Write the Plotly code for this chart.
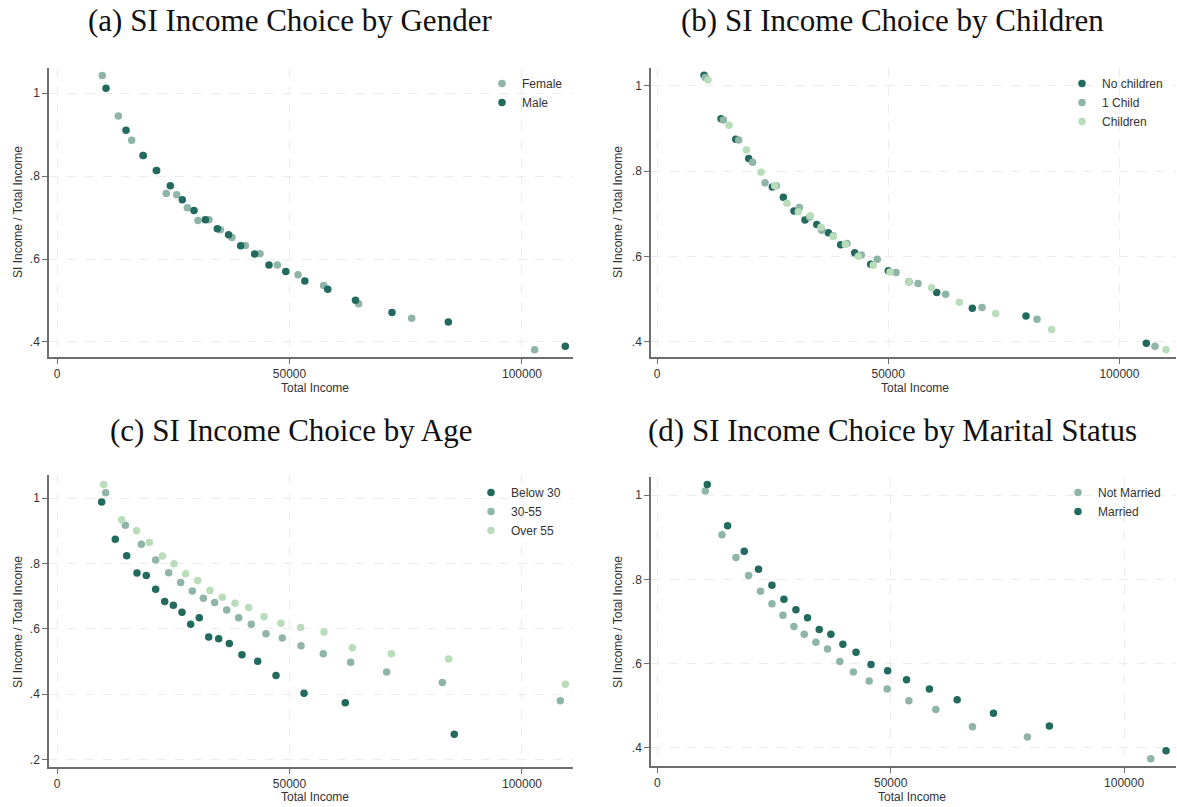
import plotly.graph_objects as go

W, H = 1177, 807

# ---- colours ----
DARK = "#236a5e"
MID = "#8fb4a8"
LIGHT = "#b9dcbb"

# ---- (a) by gender ----
female_x = [9740, 13190, 16060, 18600, 21300, 23510, 25740, 28030, 30320, 32690,
            35130, 37630, 40500, 43660, 47380, 51830, 57350, 64860, 76270, 102730]
female_y = [1.043, 0.945, 0.887, 0.850, 0.814, 0.758, 0.755, 0.724, 0.693, 0.695,
            0.671, 0.652, 0.633, 0.613, 0.586, 0.562, 0.536, 0.492, 0.457, 0.381]
male_x = [10540, 14840, 18500, 21430, 24370, 26950, 29460, 31900, 34480, 36910,
          39500, 42500, 45590, 49200, 53300, 58220, 64190, 72040, 84160, 109310]
male_y = [1.012, 0.911, 0.850, 0.814, 0.777, 0.743, 0.717, 0.695, 0.673, 0.659,
          0.632, 0.612, 0.586, 0.570, 0.547, 0.527, 0.501, 0.471, 0.448, 0.390]

# ---- (b) by children ----
nochild_x = [10170, 13840, 17020, 19830, 24940, 27320, 29630, 32010, 34540, 37050,
             39720, 42750, 46220, 50020, 54500, 60490, 68190, 79800, 105820]
nochild_y = [1.025, 0.923, 0.875, 0.830, 0.763, 0.739, 0.707, 0.686, 0.675, 0.656,
             0.628, 0.609, 0.582, 0.567, 0.541, 0.516, 0.479, 0.461, 0.397]
onechild_x = [10450, 14350, 17670, 20690, 23360, 25800, 30780, 33000, 35620, 38130,
              41080, 44180, 47640, 51690, 56440, 62430, 70290, 82180, 107700]
onechild_y = [1.020, 0.920, 0.873, 0.821, 0.773, 0.766, 0.715, 0.693, 0.662, 0.649,
              0.631, 0.604, 0.594, 0.563, 0.537, 0.512, 0.481, 0.453, 0.390]
children_x = [11030, 15570, 19320, 22490, 25450, 28110, 30560, 33160, 35470, 38130,
              40730, 43530, 46780, 50390, 54500, 59400, 65380, 73250, 85350, 110080]
children_y = [1.014, 0.908, 0.850, 0.798, 0.766, 0.725, 0.705, 0.696, 0.669, 0.647,
              0.629, 0.601, 0.580, 0.564, 0.541, 0.527, 0.493, 0.467, 0.429, 0.382]

# ---- (c) by age ----
below30_x = [9610, 12540, 14980, 17200, 19210, 21220, 23160, 25020, 26880, 28750,
             30600, 32620, 34770, 37060, 39780, 43160, 47100, 53120, 62000, 85440]
below30_y = [0.988, 0.874, 0.824, 0.771, 0.763, 0.721, 0.684, 0.672, 0.651, 0.614,
             0.634, 0.575, 0.570, 0.555, 0.521, 0.501, 0.457, 0.403, 0.374, 0.277]
mid_age_x = [10470, 14700, 18140, 21220, 24010, 26600, 29100, 31470, 33910, 36490,
             39070, 41790, 44950, 48450, 52470, 57270, 63150, 70900, 82860, 108240]
mid_age_y = [1.017, 0.917, 0.859, 0.811, 0.772, 0.742, 0.716, 0.694, 0.681, 0.658,
             0.634, 0.614, 0.585, 0.572, 0.548, 0.524, 0.498, 0.468, 0.436, 0.380]
over55_x = [10040, 13910, 17130, 19860, 22650, 25160, 27670, 30250, 32900, 35550,
            38280, 41220, 44520, 48170, 52400, 57420, 63510, 71900, 84230, 109320]
over55_y = [1.042, 0.934, 0.900, 0.864, 0.823, 0.799, 0.769, 0.748, 0.717, 0.697,
            0.678, 0.665, 0.637, 0.617, 0.604, 0.590, 0.542, 0.524, 0.508, 0.430]

# ---- (d) by marital status ----
notmarried_x = [10280, 13850, 16850, 19550, 22120, 24560, 26920, 29270, 31480, 33980,
                36470, 39100, 42000, 45400, 49250, 53890, 59670, 67520, 79290, 105720]
notmarried_y = [1.010, 0.906, 0.852, 0.809, 0.772, 0.742, 0.715, 0.688, 0.670, 0.651,
                0.635, 0.605, 0.580, 0.559, 0.540, 0.512, 0.491, 0.450, 0.426, 0.374]
married_x = [10710, 15060, 18630, 21690, 24560, 27130, 29700, 32180, 34690, 37190,
             39760, 42580, 45790, 49350, 53400, 58310, 64240, 72020, 84000, 109000]
married_y = [1.025, 0.927, 0.867, 0.824, 0.786, 0.753, 0.728, 0.709, 0.681, 0.670,
             0.646, 0.627, 0.598, 0.583, 0.562, 0.540, 0.514, 0.482, 0.452, 0.393]

x_tickvals = [0, 50000, 100000]
x_ticktext = ["0", "50000", "100000"]
y_tick_ab = [0.4, 0.6, 0.8, 1.0]
y_tick_c = [0.2, 0.4, 0.6, 0.8, 1.0]


def ytxt(vals):
    return [("%g" % v).lstrip("0") if v < 1 else "1" for v in vals]


def px(x):
    return x / W


def py(y):
    return 1 - y / H


fig = go.Figure()

# panel frames: (name suffix, x pixel span, y pixel span, x range, y range, y ticks)
panels = [
    ("", (49, 573), (68, 357), [-1720, 110970], [0.3638, 1.061], y_tick_ab),
    ("2", (651, 1176), (68, 357), [-1300, 112240], [0.3648, 1.042], y_tick_ab),
    ("3", (49, 573), (475, 767), [-1720, 110970], [0.177, 1.071], y_tick_c),
    ("4", (651, 1176), (477, 766), [-1350, 111130], [0.357, 1.043], y_tick_ab),
]

axis_common = dict(
    showline=True, linecolor="#6e6e6e", linewidth=1.5,
    ticks="outside", ticklen=5, tickcolor="#6e6e6e", tickwidth=1.2,
    showgrid=True, gridcolor="#ececec", griddash="dash", gridwidth=1.2,
    zeroline=False, mirror=False,
    tickfont=dict(family="Liberation Sans, Arial, sans-serif", size=12, color="#333333"),
)

layout_axes = {}
for suf, (x0, x1), (y0, y1), xr, yr, yt in panels:
    layout_axes["xaxis" + suf] = dict(
        domain=[px(x0), px(x1)], range=xr, anchor="y" + suf,
        tickvals=x_tickvals, ticktext=x_ticktext, **axis_common)
    layout_axes["yaxis" + suf] = dict(
        domain=[py(y1), py(y0)], range=yr, anchor="x" + suf,
        tickvals=yt, ticktext=ytxt(yt), **axis_common)


def add(xs, ys, name, color, ax, legend):
    fig.add_trace(go.Scatter(
        x=xs, y=ys, mode="markers", name=name,
        marker=dict(color=color, size=7.5, line=dict(width=0)),
        xaxis="x" + ax, yaxis="y" + ax, legend=legend, showlegend=True))


add(female_x, female_y, "Female", MID, "", "legend")
add(male_x, male_y, "Male", DARK, "", "legend")
add(nochild_x, nochild_y, "No children", DARK, "2", "legend2")
add(onechild_x, onechild_y, "1 Child", MID, "2", "legend2")
add(children_x, children_y, "Children", LIGHT, "2", "legend2")
add(below30_x, below30_y, "Below 30", DARK, "3", "legend3")
add(mid_age_x, mid_age_y, "30-55", MID, "3", "legend3")
add(over55_x, over55_y, "Over 55", LIGHT, "3", "legend3")
add(notmarried_x, notmarried_y, "Not Married", MID, "4", "legend4")
add(married_x, married_y, "Married", DARK, "4", "legend4")

leg_font = dict(family="Liberation Sans, Arial, sans-serif", size=12, color="#333333")


def legend_at(x_px, y_px):
    return dict(x=px(x_px), y=py(y_px), xanchor="left", yanchor="top",
                bgcolor="rgba(0,0,0,0)", borderwidth=0, font=leg_font,
                itemwidth=30, tracegroupgap=0, traceorder="normal")


annotations = []
title_font = dict(family="Liberation Serif, Times New Roman, serif", size=31, color="#111111")
for text, cx, cy in [
    ("(a) SI Income Choice by Gender", 290, 20),
    ("(b) SI Income Choice by Children", 892, 20),
    ("(c) SI Income Choice by Age", 291, 430),
    ("(d) SI Income Choice by Marital Status", 892, 430),
]:
    annotations.append(dict(text=text, x=px(cx), y=py(cy), xref="paper", yref="paper",
                            xanchor="center", yanchor="middle", showarrow=False,
                            font=title_font))

lab_font = dict(family="Liberation Sans, Arial, sans-serif", size=12, color="#333333")
for cx, cy in [(18, 212), (618, 212), (18, 622), (618, 622)]:
    annotations.append(dict(text="SI Income / Total Income", x=px(cx), y=py(cy),
                            xref="paper", yref="paper", textangle=-90,
                            xanchor="center", yanchor="middle", showarrow=False,
                            font=lab_font))
for cx, cy in [(315, 388), (915, 388), (315, 797), (912, 797)]:
    annotations.append(dict(text="Total Income", x=px(cx), y=py(cy),
                            xref="paper", yref="paper",
                            xanchor="center", yanchor="middle", showarrow=False,
                            font=lab_font))

fig.update_layout(
    width=W, height=H, autosize=False,
    margin=dict(l=0, r=0, t=0, b=0),
    paper_bgcolor="white", plot_bgcolor="white",
    legend=legend_at(482, 69),
    legend2=legend_at(1062, 69),
    legend3=legend_at(471, 478),
    legend4=legend_at(1058, 478),
    annotations=annotations,
    **layout_axes,
)

fig.write_html("out.html")
